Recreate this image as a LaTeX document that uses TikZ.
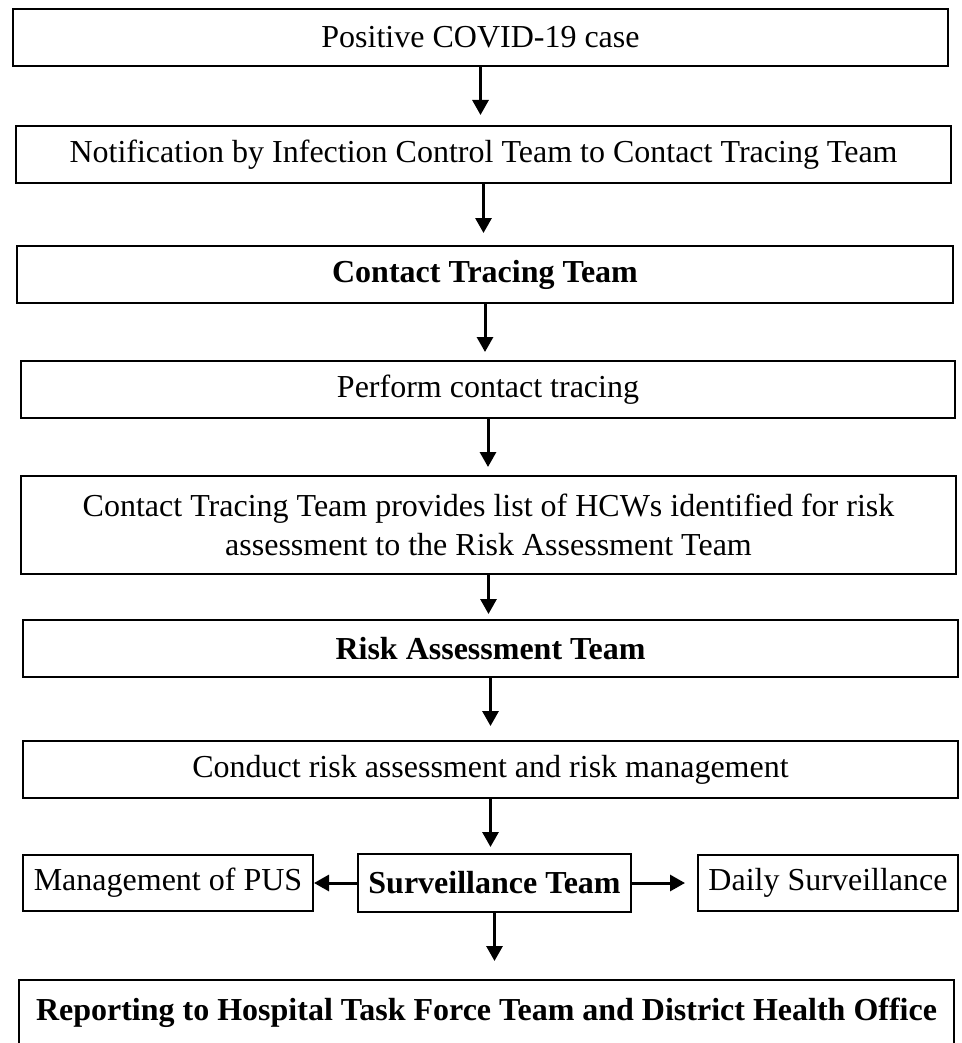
\documentclass[tikz,border=0pt]{standalone}
\usepackage{fontspec}
\setmainfont{Liberation Serif}
\usetikzlibrary{arrows.meta,calc}
\begin{document}
\begin{tikzpicture}[x=1pt,y=-1pt,
  box/.style={draw, line width=2pt, inner sep=0pt, align=center,
    font=\fontsize{32}{39}\selectfont},
  arr/.style={line width=3pt, -{Triangle[length=15pt,width=16pt]}}]
\clip (0,0) rectangle (961,1043);
\fill[white] (0,0) rectangle (961,1043);
\node[box, minimum width=935pt, minimum height=57pt] (b1) at (480.5,37.5) {Positive COVID-19 case};
\node[box, minimum width=935pt, minimum height=57pt] (b2) at (483.5,154.5) {Notification by Infection Control Team to Contact Tracing Team};
\node[box, minimum width=936pt, minimum height=57pt] (b3) at (485,274.5) {\bfseries Contact Tracing Team};
\node[box, minimum width=934pt, minimum height=57pt] (b4) at (488,389.5) {Perform contact tracing};
\node[box, minimum width=935pt, minimum height=98pt] (b5) at (488.5,525) {Contact Tracing Team provides list of HCWs identified for risk\\assessment to the Risk Assessment Team};
\node[box, minimum width=935pt, minimum height=57pt] (b6) at (490.5,648.5) {\bfseries Risk Assessment Team};
\node[box, minimum width=935pt, minimum height=57pt] (b7) at (490.5,769.5) {Conduct risk assessment and risk management};
\node[box, minimum width=290pt, minimum height=56pt] (mg) at (168,883) {Management of PUS};
\node[box, minimum width=273pt, minimum height=58pt] (sv) at (494.5,883) {\bfseries Surveillance Team};
\node[box, minimum width=260pt, minimum height=56pt] (dl) at (828,883) {Daily Surveillance};
\node[box, minimum width=935pt, minimum height=66pt] (b9) at (486.5,1013) {\bfseries Reporting to Hospital Task Force Team and District Health Office};
\draw[arr, shorten >=10pt] (b1.south) -- (b1.south |- b2.north);
\draw[arr, shorten >=12pt] (b2.south) -- (b2.south |- b3.north);
\draw[arr, shorten >=8pt] (b3.south) -- (b3.south |- b4.north);
\draw[arr, shorten >=8pt] (b4.south) -- (b4.south |- b5.north);
\draw[arr, shorten >=5pt] (b5.south) -- (b5.south |- b6.north);
\draw[arr, shorten >=14pt] (b6.south) -- (b6.south |- b7.north);
\draw[arr, shorten >=6pt] (b7.south) -- (b7.south |- sv.north);
\draw[arr, shorten >=18pt] (sv.south) -- (sv.south |- b9.north);
\draw[arr] (sv.west) -- (mg.east);
\draw[arr, shorten >=12pt] (sv.east) -- (dl.west);
\end{tikzpicture}
\end{document}
